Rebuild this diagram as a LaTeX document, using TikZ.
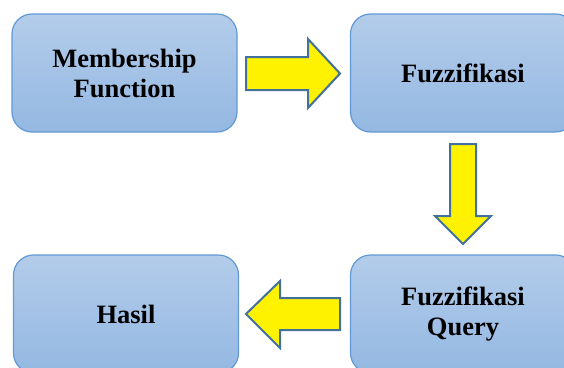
\documentclass[tikz,border=0pt]{standalone}
\usepackage{fontspec}
\setmainfont{Liberation Serif}
\definecolor{boxtop}{RGB}{179,204,234}
\definecolor{boxbot}{RGB}{148,184,226}
\definecolor{boxline}{RGB}{98,153,212}
\definecolor{arrline}{RGB}{65,113,156}
\tikzset{
  fbox/.style={rounded corners=20pt, draw=boxline, line width=1.2pt,
    top color=boxtop, bottom color=boxbot, minimum width=225pt,
    minimum height=118pt, inner sep=0pt, align=center,
    font=\fontsize{26.5}{30}\selectfont\bfseries},
  blockarrow/.style={fill=yellow, draw=arrline, line width=2pt, line join=miter}
}
\begin{document}
\begin{tikzpicture}[x=1pt,y=-1pt]
\useasboundingbox (0,0) rectangle (564,367);
\clip (0,0) rectangle (564,367);
\node[fbox] (mf) at (124.5,73) {Membership\\Function};
\node[fbox] (fz) at (463,73) {Fuzzifikasi};
\node[fbox] (hs) at (126,314) {Hasil};
\node[fbox] (fq) at (463,314) {Fuzzifikasi\\Query};
% right arrow
\draw[blockarrow] (246,57) -- (308,57) -- (308,39) -- (340,73.5) -- (308,108) -- (308,90) -- (246,90) -- cycle;
% down arrow
\draw[blockarrow] (450,144) -- (476,144) -- (476,216) -- (491,216) -- (463,244) -- (435,216) -- (450,216) -- cycle;
% left arrow
\draw[blockarrow] (340,298) -- (280,298) -- (280,281) -- (246,314) -- (280,348) -- (280,330) -- (340,330) -- cycle;
\end{tikzpicture}
\end{document}
